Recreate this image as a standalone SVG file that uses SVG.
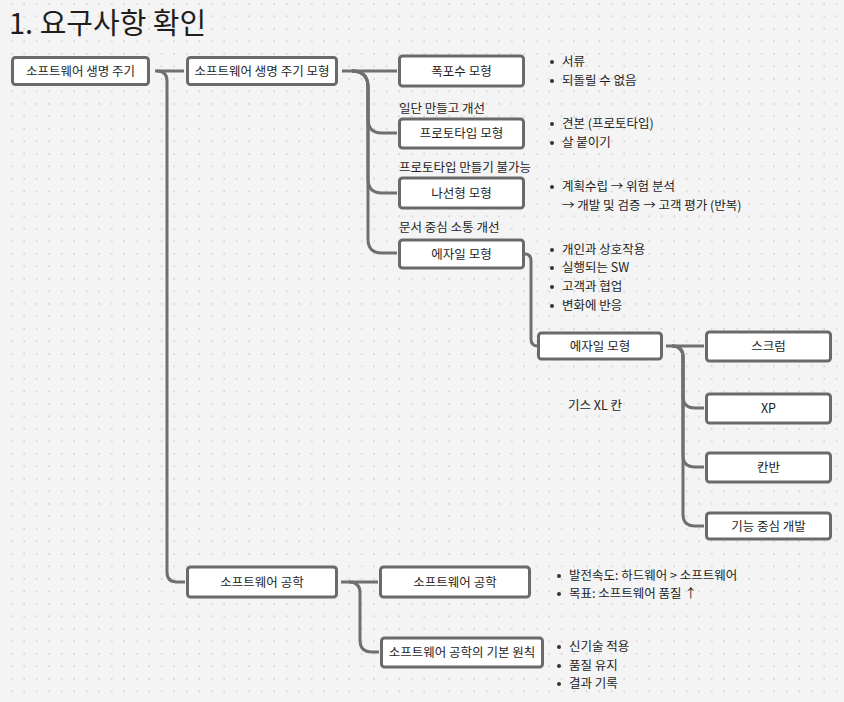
<svg xmlns="http://www.w3.org/2000/svg" width="844" height="702" viewBox="0 0 844 702">
<defs>
<pattern id="dots" x="0" y="0" width="12.5" height="12.5" patternUnits="userSpaceOnUse">
<rect x="11" y="3.2" width="1.3" height="1.3" fill="#bcbcbc"/>
</pattern>
<style>
.box{fill:#fff;stroke:#6a6a6a;stroke-width:3}
.nt{font-family:"Noto Sans CJK KR","Noto Sans",sans-serif;font-size:12.5px;fill:#1e1e1e;text-anchor:middle}
.lt{font-family:"Noto Sans CJK KR","Noto Sans",sans-serif;font-size:12.5px;fill:#1e1e1e}
.conn path{fill:none;stroke:#6f6f6f;stroke-width:3}
.dot{fill:#333}
</style>
</defs>
<rect width="844" height="702" fill="#f4f4f4"/>
<rect width="844" height="702" fill="url(#dots)"/>
<text x="9" y="34" font-family="'Noto Sans CJK KR','Noto Sans',sans-serif" font-size="29" font-weight="400" fill="#1e1e1e">1. 요구사항 확인</text>

<g id="connectors" class="conn">
<path d="M155,71 H184"/>
<path d="M157,71 Q167,71 167,81 V572 Q167,582 177,582 H185"/>
<path d="M342,71 H397"/>
<path d="M352,71 Q368,71 368,87 V119 Q368,133 382,133 H397"/>
<path d="M352,71 Q368,71 368,87 V179 Q368,193 382,193 H397"/>
<path d="M352,71 Q368,71 368,87 V239 Q368,253 382,253 H397"/>
<path d="M525,254 Q531,254 531,261 V339 Q531,346 538,346"/>
<path d="M666,346 H704"/>
<path d="M672,346 Q683,346 683,357 V396 Q683,408 695,408 H704"/>
<path d="M672,346 Q683,346 683,357 V455 Q683,467 695,467 H704"/>
<path d="M672,346 Q683,346 683,357 V514 Q683,526 695,526 H704"/>
<path d="M341,582 H378"/>
<path d="M349,582 Q360,582 360,593 V640 Q360,652 372,652 H379"/>
</g>

<g id="n1"><rect class="box" x="12.5" y="57.5" width="136" height="27" rx="3"/><text class="nt" x="80.5" y="75.5">소프트웨어 생명 주기</text></g>
<g id="n2"><rect class="box" x="187.5" y="57.5" width="149" height="27" rx="3"/><text class="nt" x="262" y="75.5">소프트웨어 생명 주기 모형</text></g>
<g id="n3"><rect class="box" x="399.5" y="56" width="124" height="30" rx="3"/><text class="nt" x="461.5" y="75.5">폭포수 모형</text></g>
<g id="n4"><rect class="box" x="399.5" y="119" width="124" height="29" rx="3"/><text class="nt" x="461.5" y="138">프로토타입 모형</text></g>
<g id="n5"><rect class="box" x="399.5" y="178" width="124" height="30" rx="3"/><text class="nt" x="461.5" y="197.5">나선형 모형</text></g>
<g id="n6"><rect class="box" x="399.5" y="240" width="124" height="28" rx="3"/><text class="nt" x="461.5" y="258.5">에자일 모형</text></g>
<g id="n7"><rect class="box" x="538.5" y="333" width="123" height="26" rx="3"/><text class="nt" x="600" y="350.5">에자일 모형</text></g>
<g id="n8"><rect class="box" x="706.5" y="332" width="124" height="29" rx="3"/><text class="nt" x="768.5" y="350.5">스크럼</text></g>
<g id="n9"><rect class="box" x="706.5" y="394" width="124" height="29" rx="3"/><text class="nt" x="768.5" y="413">XP</text></g>
<g id="n10"><rect class="box" x="706.5" y="453" width="124" height="29" rx="3"/><text class="nt" x="768.5" y="472">칸반</text></g>
<g id="n11"><rect class="box" x="706.5" y="513" width="124" height="26" rx="3"/><text class="nt" x="768.5" y="530.5">기능 중심 개발</text></g>
<g id="n12"><rect class="box" x="187.5" y="567" width="149" height="30" rx="3"/><text class="nt" x="262" y="586.5">소프트웨어 공학</text></g>
<g id="n13"><rect class="box" x="380.5" y="567" width="149" height="30" rx="3"/><text class="nt" x="455" y="586.5">소프트웨어 공학</text></g>
<g id="n14"><rect class="box" x="381.5" y="638" width="161" height="29" rx="3"/><text class="nt" x="462" y="657">소프트웨어 공학의 기본 원칙</text></g>

<g id="labels">
<text class="lt" x="399" y="113">일단 만들고 개선</text>
<text class="lt" x="399" y="172">프로토타입 만들기 불가능</text>
<text class="lt" x="399" y="232">문서 중심 소통 개선</text>
<text class="lt" x="568" y="410">기스 XL 칸</text>
</g>

<g id="notes">
<circle class="dot" cx="552" cy="62" r="2"/><text class="lt" x="562" y="66">서류</text>
<circle class="dot" cx="552" cy="81" r="2"/><text class="lt" x="562" y="85">되돌릴 수 없음</text>
<circle class="dot" cx="552" cy="124" r="2"/><text class="lt" x="562" y="128">견본 (프로토타입)</text>
<circle class="dot" cx="552" cy="143" r="2"/><text class="lt" x="562" y="147">살 붙이기</text>
<circle class="dot" cx="552" cy="187" r="2"/><text class="lt" x="562" y="191">계획수립 → 위험 분석</text>
<text class="lt" x="562" y="210">→ 개발 및 검증 → 고객 평가 (반복)</text>
<circle class="dot" cx="552" cy="250" r="2"/><text class="lt" x="562" y="254">개인과 상호작용</text>
<circle class="dot" cx="552" cy="268" r="2"/><text class="lt" x="562" y="272">실행되는 SW</text>
<circle class="dot" cx="552" cy="287" r="2"/><text class="lt" x="562" y="291">고객과 협업</text>
<circle class="dot" cx="552" cy="306" r="2"/><text class="lt" x="562" y="310">변화에 반응</text>
<circle class="dot" cx="559" cy="576" r="2"/><text class="lt" x="569" y="580">발전속도: 하드웨어 &gt; 소프트웨어</text>
<circle class="dot" cx="559" cy="594" r="2"/><text class="lt" x="569" y="598">목표: 소프트웨어 품질 ↑</text>
<circle class="dot" cx="559" cy="647" r="2"/><text class="lt" x="569" y="651">신기술 적용</text>
<circle class="dot" cx="559" cy="666" r="2"/><text class="lt" x="569" y="670">품질 유지</text>
<circle class="dot" cx="559" cy="684" r="2"/><text class="lt" x="569" y="688">결과 기록</text>
</g>
</svg>
